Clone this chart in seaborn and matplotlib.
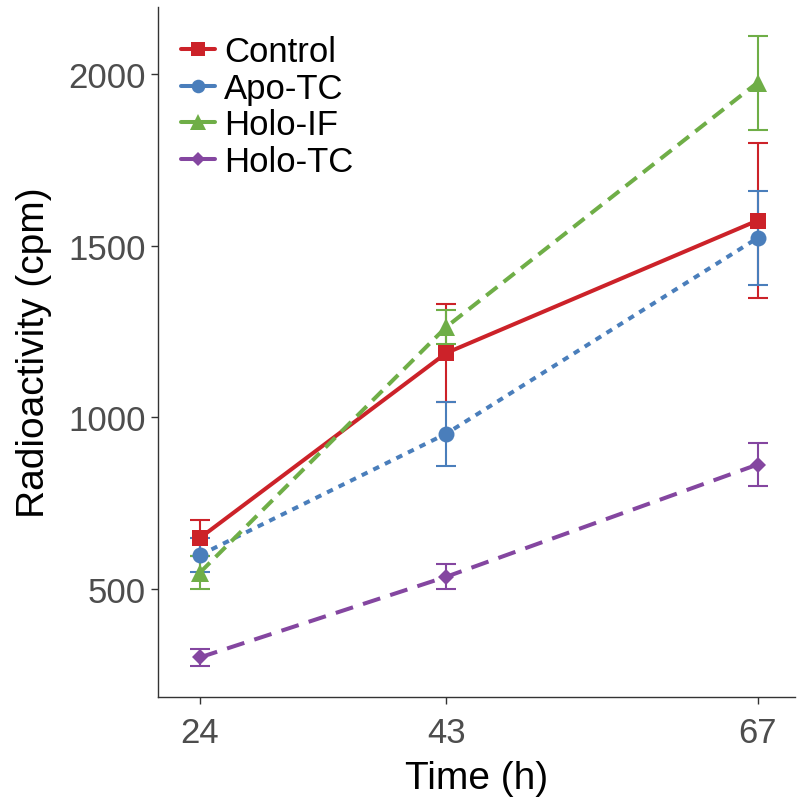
import pandas as pd
import matplotlib.pyplot as plt
import seaborn as sns
from matplotlib.lines import Line2D

groups = ['Control', 'Apo-TC', 'Holo-IF', 'Holo-TC']
times = [24, 43, 67]
control = [648, 1187, 1573]
apo_tc = [598, 952, 1522]
holo_if = [547, 1263, 1975]
holo_tc = [300, 535, 862]
control_err = [52, 143, 226]
apo_tc_err = [50, 93, 136]
holo_if_err = [48, 50, 137]
holo_tc_err = [24, 36, 64]

vals = [control, apo_tc, holo_if, holo_tc]
errs = [control_err, apo_tc_err, holo_if_err, holo_tc_err]
rows = []
for g, v, e in zip(groups, vals, errs):
    for t, y, s in zip(times, v, e):
        rows.append({'Group': g, 'Time': t, 'Value': y, 'Err': s})
df = pd.DataFrame(rows)

sns.set_style('white')
plt.rcParams['font.family'] = ['Liberation Sans', 'DejaVu Sans']
plt.rcParams['text.color'] = 'black'
plt.rcParams['axes.labelcolor'] = 'black'

colors = {'Control': '#cc2229', 'Apo-TC': '#4a7ebb', 'Holo-IF': '#6fae47', 'Holo-TC': '#8446a0'}
markers = {'Control': 's', 'Apo-TC': 'o', 'Holo-IF': '^', 'Holo-TC': 'D'}
dashes = {'Control': '', 'Apo-TC': (1.6, 1.6), 'Holo-IF': (3.5, 2.0), 'Holo-TC': (4.5, 2.6)}
msize = {'Control': 11.5, 'Apo-TC': 11.5, 'Holo-IF': 13, 'Holo-TC': 8.5}

fig, ax = plt.subplots(figsize=(8, 8.04), dpi=100)
fig.subplots_adjust(left=0.198, right=0.994, top=0.99, bottom=0.132)

for g in groups:
    d = df[df['Group'] == g]
    ax.errorbar(d['Time'], d['Value'], yerr=d['Err'], fmt='none', ecolor=colors[g],
                elinewidth=1.5, capsize=7.2, capthick=1.5, zorder=2)

sns.lineplot(data=df, x='Time', y='Value', hue='Group', style='Group',
             hue_order=groups, style_order=groups, palette=colors,
             markers=markers, dashes=dashes, linewidth=2.9, markersize=11,
             markeredgewidth=0, ax=ax, legend=False, zorder=3)

for line, g in zip(ax.get_lines()[-4:], groups):
    line.set_markersize(msize[g])

handles = [Line2D([0], [0], color=colors[g], marker=markers[g], markersize=msize[g] * 0.85,
                  markeredgewidth=0, linewidth=2.9) for g in groups]
leg = ax.legend(handles, groups, loc='upper left', bbox_to_anchor=(0.013, 0.979), frameon=False,
                fontsize=25, handlelength=1.0, handletextpad=0.25, labelspacing=0.1,
                borderaxespad=0)
for t in leg.get_texts():
    t.set_color('black')

ax.set_xlim(20.8, 69.9)
ax.set_ylim(185, 2195)
ax.set_xticks(times)
ax.set_yticks([500, 1000, 1500, 2000])
ax.tick_params(axis='both', labelsize=25, labelcolor='#4d4d4d', length=5,
               width=1, color='#333333', bottom=True, left=True, direction='out', pad=4)
ax.tick_params(axis='x', pad=9)
ax.set_xlabel('Time (h)', fontsize=28, labelpad=8, color='black')
ax.set_ylabel('Radioactivity (cpm)', fontsize=28, labelpad=12, color='black')
for s in ['top', 'right']:
    ax.spines[s].set_visible(False)
for s in ['left', 'bottom']:
    ax.spines[s].set_color('#333333')
    ax.spines[s].set_linewidth(1)

plt.savefig('out.png', dpi=100)
